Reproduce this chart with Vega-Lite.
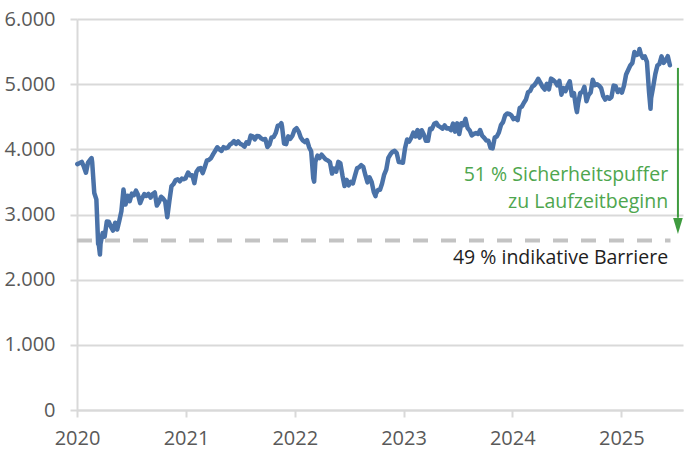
{
  "$schema": "https://vega.github.io/schema/vega-lite/v6.json",
  "width": 606,
  "height": 391,
  "autosize": {"type": "none"},
  "padding": {"left": 77, "top": 19, "right": 1, "bottom": 40},
  "background": "#ffffff",
  "config": {
    "view": {"stroke": null},
    "font": "Open Sans",
    "locale": {"number": {"decimal": ",", "thousands": ".", "grouping": [3], "currency": ["", " €"]}},
    "axis": {
      "domainColor": "#d9d9d9", "domainWidth": 2,
      "gridColor": "#d9d9d9", "gridWidth": 2,
      "tickColor": "#d9d9d9", "tickWidth": 2, "tickSize": 7,
      "labelColor": "#595959", "labelFontSize": 20, "labelFont": "Open Sans",
      "title": null
    }
  },
  "layer": [
    {
      "data": {"values": [{"start": "2020-01-01", "end": "2025-06-15", "barrier": 2600}]},
      "mark": {"type": "rule", "color": "#c3c3c3", "strokeWidth": 4, "strokeDash": [15, 13]},
      "encoding": {
        "x": {"field": "start", "type": "temporal"},
        "x2": {"field": "end"},
        "y": {"field": "barrier", "type": "quantitative"}
      }
    },
    {
      "data": {"values": [
        {"date": "2020-01-02", "value": 3773}, {"date": "2020-01-10", "value": 3790}, {"date": "2020-01-17", "value": 3808}, {"date": "2020-01-24", "value": 3733}, {"date": "2020-01-31", "value": 3641}, {"date": "2020-02-07", "value": 3798}, {"date": "2020-02-14", "value": 3840}, {"date": "2020-02-19", "value": 3865}, {"date": "2020-02-21", "value": 3800}, {"date": "2020-02-28", "value": 3329}, {"date": "2020-03-06", "value": 3232}, {"date": "2020-03-12", "value": 2545}, {"date": "2020-03-13", "value": 2586}, {"date": "2020-03-18", "value": 2386}, {"date": "2020-03-20", "value": 2549}, {"date": "2020-03-27", "value": 2715}, {"date": "2020-04-03", "value": 2662}, {"date": "2020-04-10", "value": 2892}, {"date": "2020-04-17", "value": 2888}, {"date": "2020-04-24", "value": 2810}, {"date": "2020-05-01", "value": 2754}, {"date": "2020-05-08", "value": 2873}, {"date": "2020-05-15", "value": 2770}, {"date": "2020-05-22", "value": 2905}, {"date": "2020-05-29", "value": 3050}, {"date": "2020-06-05", "value": 3384}, {"date": "2020-06-12", "value": 3153}, {"date": "2020-06-19", "value": 3289}, {"date": "2020-06-26", "value": 3206}, {"date": "2020-07-03", "value": 3320}, {"date": "2020-07-10", "value": 3296}, {"date": "2020-07-17", "value": 3366}, {"date": "2020-07-24", "value": 3299}, {"date": "2020-07-31", "value": 3174}, {"date": "2020-08-07", "value": 3253}, {"date": "2020-08-14", "value": 3314}, {"date": "2020-08-21", "value": 3284}, {"date": "2020-08-28", "value": 3315}, {"date": "2020-09-04", "value": 3260}, {"date": "2020-09-11", "value": 3315}, {"date": "2020-09-18", "value": 3338}, {"date": "2020-09-25", "value": 3137}, {"date": "2020-10-02", "value": 3190}, {"date": "2020-10-09", "value": 3273}, {"date": "2020-10-16", "value": 3245}, {"date": "2020-10-23", "value": 3202}, {"date": "2020-10-30", "value": 2958}, {"date": "2020-11-06", "value": 3204}, {"date": "2020-11-13", "value": 3432}, {"date": "2020-11-20", "value": 3467}, {"date": "2020-11-27", "value": 3527}, {"date": "2020-12-04", "value": 3539}, {"date": "2020-12-11", "value": 3510}, {"date": "2020-12-18", "value": 3551}, {"date": "2020-12-24", "value": 3542}, {"date": "2020-12-30", "value": 3553},
        {"date": "2021-01-08", "value": 3645}, {"date": "2021-01-15", "value": 3600}, {"date": "2021-01-22", "value": 3602}, {"date": "2021-01-29", "value": 3481}, {"date": "2021-02-05", "value": 3657}, {"date": "2021-02-12", "value": 3703}, {"date": "2021-02-19", "value": 3713}, {"date": "2021-02-26", "value": 3636}, {"date": "2021-03-05", "value": 3730}, {"date": "2021-03-12", "value": 3830}, {"date": "2021-03-19", "value": 3837}, {"date": "2021-03-26", "value": 3867}, {"date": "2021-04-02", "value": 3926}, {"date": "2021-04-09", "value": 3978}, {"date": "2021-04-16", "value": 4032}, {"date": "2021-04-23", "value": 3999}, {"date": "2021-04-30", "value": 3975}, {"date": "2021-05-07", "value": 4034}, {"date": "2021-05-14", "value": 4017}, {"date": "2021-05-21", "value": 4026}, {"date": "2021-05-28", "value": 4071}, {"date": "2021-06-04", "value": 4093}, {"date": "2021-06-11", "value": 4127}, {"date": "2021-06-18", "value": 4083}, {"date": "2021-06-25", "value": 4121}, {"date": "2021-07-02", "value": 4084}, {"date": "2021-07-09", "value": 4070}, {"date": "2021-07-16", "value": 4040}, {"date": "2021-07-23", "value": 4109}, {"date": "2021-07-30", "value": 4089}, {"date": "2021-08-06", "value": 4210}, {"date": "2021-08-13", "value": 4199}, {"date": "2021-08-20", "value": 4153}, {"date": "2021-08-27", "value": 4204}, {"date": "2021-09-03", "value": 4201}, {"date": "2021-09-10", "value": 4169}, {"date": "2021-09-17", "value": 4150}, {"date": "2021-09-24", "value": 4158}, {"date": "2021-10-01", "value": 4036}, {"date": "2021-10-08", "value": 4073}, {"date": "2021-10-15", "value": 4183}, {"date": "2021-10-22", "value": 4188}, {"date": "2021-10-29", "value": 4250}, {"date": "2021-11-05", "value": 4363}, {"date": "2021-11-12", "value": 4370}, {"date": "2021-11-17", "value": 4401}, {"date": "2021-11-19", "value": 4356}, {"date": "2021-11-26", "value": 4089}, {"date": "2021-12-03", "value": 4080}, {"date": "2021-12-10", "value": 4199}, {"date": "2021-12-17", "value": 4161}, {"date": "2021-12-24", "value": 4209}, {"date": "2021-12-31", "value": 4298},
        {"date": "2022-01-07", "value": 4325}, {"date": "2022-01-14", "value": 4272}, {"date": "2022-01-21", "value": 4183}, {"date": "2022-01-28", "value": 4136}, {"date": "2022-02-04", "value": 4111}, {"date": "2022-02-11", "value": 4143}, {"date": "2022-02-18", "value": 4032}, {"date": "2022-02-25", "value": 3970}, {"date": "2022-03-04", "value": 3557}, {"date": "2022-03-07", "value": 3505}, {"date": "2022-03-11", "value": 3809}, {"date": "2022-03-18", "value": 3903}, {"date": "2022-03-25", "value": 3867}, {"date": "2022-04-01", "value": 3918}, {"date": "2022-04-08", "value": 3880}, {"date": "2022-04-14", "value": 3848}, {"date": "2022-04-22", "value": 3830}, {"date": "2022-04-29", "value": 3803}, {"date": "2022-05-06", "value": 3629}, {"date": "2022-05-13", "value": 3703}, {"date": "2022-05-20", "value": 3657}, {"date": "2022-05-27", "value": 3808}, {"date": "2022-06-03", "value": 3784}, {"date": "2022-06-10", "value": 3599}, {"date": "2022-06-17", "value": 3438}, {"date": "2022-06-24", "value": 3533}, {"date": "2022-07-01", "value": 3448}, {"date": "2022-07-08", "value": 3500}, {"date": "2022-07-15", "value": 3477}, {"date": "2022-07-22", "value": 3596}, {"date": "2022-07-29", "value": 3708}, {"date": "2022-08-05", "value": 3725}, {"date": "2022-08-12", "value": 3757}, {"date": "2022-08-19", "value": 3730}, {"date": "2022-08-26", "value": 3603}, {"date": "2022-09-02", "value": 3492}, {"date": "2022-09-09", "value": 3570}, {"date": "2022-09-16", "value": 3500}, {"date": "2022-09-23", "value": 3348}, {"date": "2022-09-29", "value": 3280}, {"date": "2022-09-30", "value": 3318}, {"date": "2022-10-07", "value": 3375}, {"date": "2022-10-14", "value": 3381}, {"date": "2022-10-21", "value": 3477}, {"date": "2022-10-28", "value": 3613}, {"date": "2022-11-04", "value": 3688}, {"date": "2022-11-11", "value": 3868}, {"date": "2022-11-18", "value": 3924}, {"date": "2022-11-25", "value": 3962}, {"date": "2022-12-02", "value": 3977}, {"date": "2022-12-09", "value": 3942}, {"date": "2022-12-16", "value": 3804}, {"date": "2022-12-23", "value": 3801}, {"date": "2022-12-30", "value": 3794},
        {"date": "2023-01-06", "value": 4017}, {"date": "2023-01-13", "value": 4150}, {"date": "2023-01-20", "value": 4120}, {"date": "2023-01-27", "value": 4178}, {"date": "2023-02-03", "value": 4257}, {"date": "2023-02-10", "value": 4198}, {"date": "2023-02-17", "value": 4296}, {"date": "2023-02-24", "value": 4179}, {"date": "2023-03-03", "value": 4294}, {"date": "2023-03-10", "value": 4229}, {"date": "2023-03-17", "value": 4131}, {"date": "2023-03-24", "value": 4131}, {"date": "2023-03-31", "value": 4315}, {"date": "2023-04-06", "value": 4309}, {"date": "2023-04-14", "value": 4391}, {"date": "2023-04-21", "value": 4408}, {"date": "2023-04-28", "value": 4359}, {"date": "2023-05-05", "value": 4340}, {"date": "2023-05-12", "value": 4318}, {"date": "2023-05-19", "value": 4366}, {"date": "2023-05-26", "value": 4321}, {"date": "2023-06-02", "value": 4324}, {"date": "2023-06-09", "value": 4294}, {"date": "2023-06-16", "value": 4395}, {"date": "2023-06-23", "value": 4271}, {"date": "2023-06-30", "value": 4399}, {"date": "2023-07-07", "value": 4235}, {"date": "2023-07-14", "value": 4400}, {"date": "2023-07-21", "value": 4373}, {"date": "2023-07-28", "value": 4467}, {"date": "2023-08-04", "value": 4327}, {"date": "2023-08-11", "value": 4290}, {"date": "2023-08-18", "value": 4213}, {"date": "2023-08-25", "value": 4237}, {"date": "2023-09-01", "value": 4250}, {"date": "2023-09-08", "value": 4235}, {"date": "2023-09-15", "value": 4295}, {"date": "2023-09-22", "value": 4208}, {"date": "2023-09-29", "value": 4175}, {"date": "2023-10-06", "value": 4136}, {"date": "2023-10-13", "value": 4131}, {"date": "2023-10-20", "value": 4024}, {"date": "2023-10-27", "value": 4015}, {"date": "2023-11-03", "value": 4180}, {"date": "2023-11-10", "value": 4197}, {"date": "2023-11-17", "value": 4258}, {"date": "2023-11-24", "value": 4373}, {"date": "2023-12-01", "value": 4418}, {"date": "2023-12-08", "value": 4520}, {"date": "2023-12-15", "value": 4550}, {"date": "2023-12-22", "value": 4543}, {"date": "2023-12-29", "value": 4522},
        {"date": "2024-01-05", "value": 4464}, {"date": "2024-01-12", "value": 4480}, {"date": "2024-01-19", "value": 4449}, {"date": "2024-01-26", "value": 4635}, {"date": "2024-02-02", "value": 4655}, {"date": "2024-02-09", "value": 4716}, {"date": "2024-02-16", "value": 4765}, {"date": "2024-02-23", "value": 4878}, {"date": "2024-03-01", "value": 4895}, {"date": "2024-03-08", "value": 4962}, {"date": "2024-03-15", "value": 4986}, {"date": "2024-03-22", "value": 5031}, {"date": "2024-03-28", "value": 5083}, {"date": "2024-04-05", "value": 5015}, {"date": "2024-04-12", "value": 4955}, {"date": "2024-04-19", "value": 4918}, {"date": "2024-04-26", "value": 5006}, {"date": "2024-05-03", "value": 4921}, {"date": "2024-05-10", "value": 5085}, {"date": "2024-05-17", "value": 5064}, {"date": "2024-05-24", "value": 5035}, {"date": "2024-05-31", "value": 4983}, {"date": "2024-06-07", "value": 5051}, {"date": "2024-06-14", "value": 4839}, {"date": "2024-06-21", "value": 4939}, {"date": "2024-06-28", "value": 4894}, {"date": "2024-07-05", "value": 4979}, {"date": "2024-07-12", "value": 5043}, {"date": "2024-07-19", "value": 4827}, {"date": "2024-07-26", "value": 4862}, {"date": "2024-08-02", "value": 4638}, {"date": "2024-08-05", "value": 4571}, {"date": "2024-08-09", "value": 4706}, {"date": "2024-08-16", "value": 4864}, {"date": "2024-08-23", "value": 4879}, {"date": "2024-08-30", "value": 4958}, {"date": "2024-09-06", "value": 4738}, {"date": "2024-09-13", "value": 4834}, {"date": "2024-09-20", "value": 4871}, {"date": "2024-09-27", "value": 5067}, {"date": "2024-10-04", "value": 4985}, {"date": "2024-10-11", "value": 5000}, {"date": "2024-10-18", "value": 4979}, {"date": "2024-10-25", "value": 4942}, {"date": "2024-11-01", "value": 4821}, {"date": "2024-11-08", "value": 4763}, {"date": "2024-11-15", "value": 4801}, {"date": "2024-11-22", "value": 4776}, {"date": "2024-11-29", "value": 4804}, {"date": "2024-12-06", "value": 4978}, {"date": "2024-12-13", "value": 4968}, {"date": "2024-12-20", "value": 4879}, {"date": "2024-12-27", "value": 4918}, {"date": "2024-12-31", "value": 4896},
        {"date": "2025-01-03", "value": 4871}, {"date": "2025-01-10", "value": 4977}, {"date": "2025-01-17", "value": 5148}, {"date": "2025-01-24", "value": 5218}, {"date": "2025-01-31", "value": 5287}, {"date": "2025-02-07", "value": 5325}, {"date": "2025-02-14", "value": 5493}, {"date": "2025-02-21", "value": 5447}, {"date": "2025-02-28", "value": 5464}, {"date": "2025-03-03", "value": 5540}, {"date": "2025-03-07", "value": 5468}, {"date": "2025-03-14", "value": 5404}, {"date": "2025-03-21", "value": 5425}, {"date": "2025-03-28", "value": 5343}, {"date": "2025-04-04", "value": 4878}, {"date": "2025-04-09", "value": 4622}, {"date": "2025-04-11", "value": 4787}, {"date": "2025-04-17", "value": 4935}, {"date": "2025-04-25", "value": 5154}, {"date": "2025-05-02", "value": 5285}, {"date": "2025-05-09", "value": 5310}, {"date": "2025-05-16", "value": 5427}, {"date": "2025-05-23", "value": 5326}, {"date": "2025-05-30", "value": 5366}, {"date": "2025-06-06", "value": 5430}, {"date": "2025-06-13", "value": 5290}
      ]},
      "mark": {"type": "line", "color": "#4a72a8", "strokeWidth": 4.5, "strokeJoin": "round", "strokeCap": "round"},
      "encoding": {
        "x": {
          "field": "date", "type": "temporal",
          "scale": {"domain": ["2020-01-01", "2025-07-27"]},
          "axis": {"format": "%Y", "tickCount": {"interval": "year", "step": 1}, "grid": false, "labelPadding": 11, "labelAlign": "center", "labelFlush": false}
        },
        "y": {
          "field": "value", "type": "quantitative",
          "scale": {"domain": [0, 6000], "nice": false},
          "axis": {"values": [0, 1000, 2000, 3000, 4000, 5000, 6000], "format": ",d", "labelPadding": 15}
        }
      }
    },
    {
      "data": {"values": [{"date": "2025-07-10", "from": 5250, "to": 2950}]},
      "mark": {"type": "rule", "color": "#3f9b3f", "strokeWidth": 2},
      "encoding": {
        "x": {"field": "date", "type": "temporal"},
        "y": {"field": "from", "type": "quantitative"},
        "y2": {"field": "to"}
      }
    },
    {
      "data": {"values": [{"date": "2025-07-10", "tip": 2823}]},
      "mark": {"type": "point", "shape": "M-0.6,-1L0.6,-1L0,1Z", "filled": true, "opacity": 1, "color": "#3f9b3f", "size": 256},
      "encoding": {
        "x": {"field": "date", "type": "temporal"},
        "y": {"field": "tip", "type": "quantitative"}
      }
    },
    {
      "data": {"values": [
        {"date": "2025-06-07", "v": 3606, "label": "51 % Sicherheitspuffer"},
        {"date": "2025-06-07", "v": 3192, "label": "zu Laufzeitbeginn"}
      ]},
      "mark": {"type": "text", "align": "right", "baseline": "middle", "fontSize": 19.5, "color": "#4ea64e", "font": "Open Sans"},
      "encoding": {
        "x": {"field": "date", "type": "temporal"},
        "y": {"field": "v", "type": "quantitative"},
        "text": {"field": "label"}
      }
    },
    {
      "data": {"values": [{"date": "2025-06-07", "v": 2332, "label": "49 % indikative Barriere"}]},
      "mark": {"type": "text", "align": "right", "baseline": "middle", "fontSize": 19.5, "color": "#1e1e1e", "font": "Open Sans"},
      "encoding": {
        "x": {"field": "date", "type": "temporal"},
        "y": {"field": "v", "type": "quantitative"},
        "text": {"field": "label"}
      }
    }
  ]
}
